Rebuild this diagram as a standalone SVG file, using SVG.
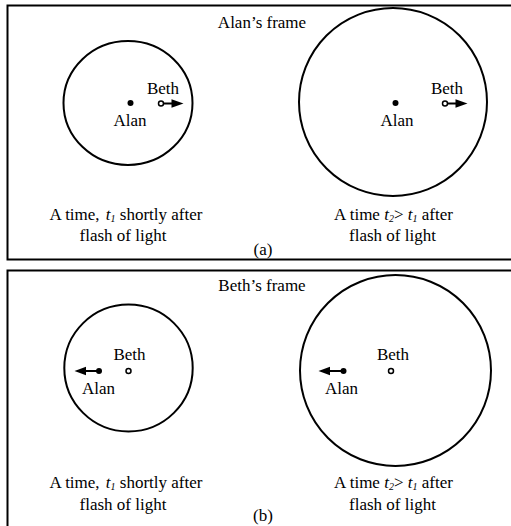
<svg xmlns="http://www.w3.org/2000/svg" width="511" height="526" viewBox="0 0 511 526">
<style>
text{font-family:"Liberation Serif","Times New Roman",serif;font-size:17px;fill:#000;text-anchor:middle}
.it{font-style:italic}
.sub{font-size:10px;font-style:italic}
.frame{fill:none;stroke:#000;stroke-width:2}
.wave{fill:none;stroke:#000;stroke-width:2}
.alan{fill:#000}
.beth{fill:#fff;stroke:#000;stroke-width:1.5}
.mv{stroke:#000;stroke-width:2;fill:none}
.head{fill:#000}
</style>
<rect fill="#fff" x="0" y="0" width="511" height="526"/>
<g id="panel-a">
<rect class="frame" x="7.5" y="5.5" width="520" height="254"/>
<text x="262" y="28">Alan’s frame</text>
<text x="263" y="254.5">(a)</text>
</g>
<g id="panel-b">
<rect class="frame" x="7.5" y="270.5" width="520" height="270"/>
<text x="262" y="291">Beth’s frame</text>
<text x="263" y="521">(b)</text>
</g>
<g id="a-left">
<ellipse class="wave" cx="128" cy="103" rx="64.5" ry="62"/>
<circle class="alan" cx="130.5" cy="103" r="3"/>
<text x="130" y="126">Alan</text>
<text x="163" y="94">Beth</text>
<text x="126" y="220">A time, <tspan class="it" dx="2">t</tspan><tspan class="sub" dy="2">1</tspan><tspan dy="-2"> shortly after</tspan></text>
<text x="123" y="241">flash of light</text>
</g>
<g id="a-right">
<circle class="wave" cx="393" cy="102" r="94"/>
<circle class="alan" cx="395.5" cy="103" r="3"/>
<text x="397" y="126">Alan</text>
<text x="447" y="94">Beth</text>
<text x="393.5" y="220">A time <tspan class="it">t</tspan><tspan class="sub" dy="2">2</tspan><tspan dy="-2">&gt; </tspan><tspan class="it">t</tspan><tspan class="sub" dy="2">1</tspan><tspan dy="-2"> after</tspan></text>
<text x="392.5" y="241">flash of light</text>
</g>
<g id="b-left">
<ellipse class="wave" cx="128.5" cy="368" rx="64.2" ry="63.5"/>
<circle class="alan" cx="99" cy="371" r="3"/>
<text x="98.5" y="394">Alan</text>
<text x="129.5" y="360">Beth</text>
<text x="126" y="488">A time, <tspan class="it" dx="2">t</tspan><tspan class="sub" dy="2">1</tspan><tspan dy="-2"> shortly after</tspan></text>
<text x="123" y="509.5">flash of light</text>
</g>
<g id="b-right">
<circle class="wave" cx="395.5" cy="370.5" r="95.5"/>
<circle class="alan" cx="343.5" cy="371" r="3"/>
<text x="341.5" y="394">Alan</text>
<text x="393" y="360">Beth</text>
<text x="393.5" y="488">A time <tspan class="it">t</tspan><tspan class="sub" dy="2">2</tspan><tspan dy="-2">&gt; </tspan><tspan class="it">t</tspan><tspan class="sub" dy="2">1</tspan><tspan dy="-2"> after</tspan></text>
<text x="392.5" y="509.5">flash of light</text>
</g>
<g id="connectors">
<line class="mv" x1="163.5" y1="103.5" x2="173" y2="103.5"/>
<polygon class="head" points="171.5,99.3 183.5,103.5 171.5,107.7"/>
<line class="mv" x1="447.5" y1="103.5" x2="457" y2="103.5"/>
<polygon class="head" points="455.5,99.3 467.5,103.5 455.5,107.7"/>
<line class="mv" x1="99" y1="371" x2="85" y2="371"/>
<polygon class="head" points="86,366.8 74.5,371 86,375.2"/>
<line class="mv" x1="343.5" y1="371" x2="329" y2="371"/>
<polygon class="head" points="330,366.8 318.5,371 330,375.2"/>
</g>
<g id="beth-marks">
<circle class="beth" cx="161" cy="103.5" r="2.5"/>
<circle class="beth" cx="445" cy="103.5" r="2.5"/>
<circle class="beth" cx="128.5" cy="371" r="2.5"/>
<circle class="beth" cx="391" cy="371" r="2.5"/>
</g>
</svg>
